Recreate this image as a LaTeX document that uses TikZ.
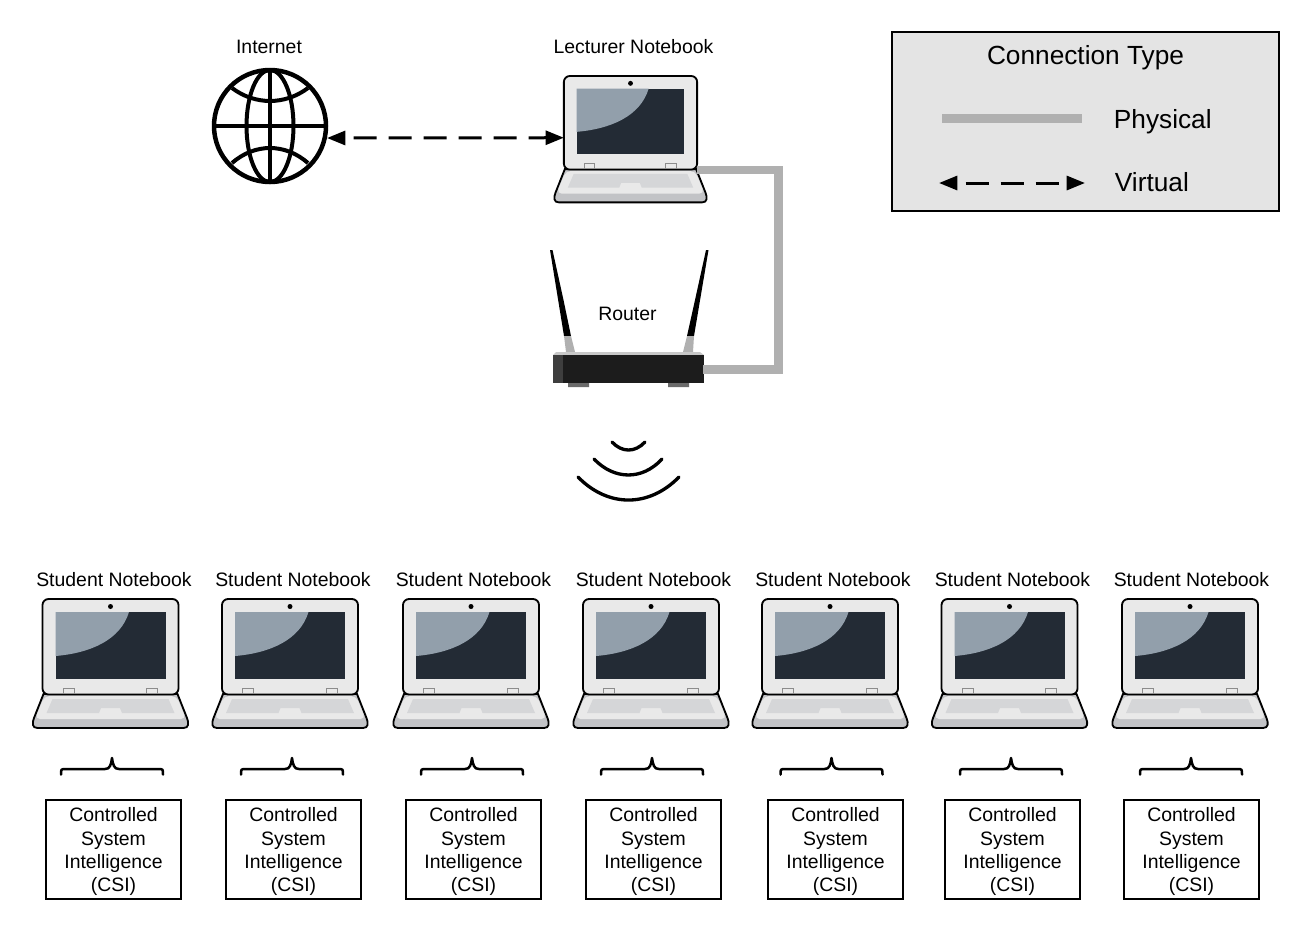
\documentclass[tikz,border=0pt]{standalone}
\usepackage{fontspec}
\setmainfont{Liberation Sans}
\usepackage{xcolor}
\usetikzlibrary{arrows.meta}
\definecolor{lid}{HTML}{E9E9E9}
\definecolor{screen}{HTML}{232B35}
\definecolor{glare}{HTML}{929FAB}
\definecolor{keys}{HTML}{D5D6D8}
\definecolor{strip}{HTML}{C2C3C6}
\definecolor{cable}{HTML}{B0B0B0}
\definecolor{panel}{HTML}{E4E4E4}
\definecolor{casing}{HTML}{1C1C1C}
\tikzset{
  small/.style={font=\fontsize{11.65}{14}\selectfont},
  large/.style={font=\fontsize{15.75}{18}\selectfont},
  physical/.style={line width=5.2pt,cable},
  virtual/.style={line width=1.8pt,{Triangle[length=11pt,width=8.4pt]}-{Triangle[length=11pt,width=8.4pt]},dash pattern=on 13.8pt off 7.2pt,dash phase=15.6pt},
  csi/.style={draw,line width=1.2pt,small,align=center,inner sep=0pt,minimum width=81pt,minimum height=59.4pt,text height=53pt},
  wave/.style={line width=2pt,line cap=round},
  laptop/.pic={
    \fill[strip,draw=black,line width=1.1pt] (-67,96)--(-76.5,120) .. controls (-78.5,125) and (-78.5,130) .. (-73,130)--(73,130) .. controls (78.5,130) and (78.5,125) .. (76.5,120)--(67,96)--cycle;
    \fill[lid,rounded corners=3pt] (-66,98)--(-75.5,121)--(75.5,121)--(66,98)--cycle;
    \fill[keys] (-58,101)--(58,101)--(64,115)--(11.5,115)--(9.5,110)--(-9.5,110)--(-11.5,115)--(-64,115)--cycle;
    \fill[lid,draw=black,line width=1.1pt,rounded corners=3.6pt] (-68,1) rectangle (68,96.5);
    \fill[screen] (-55,14) rectangle (55,81);
    \fill[glare] (-55,14)--(18.5,14) .. controls (10,42) and (-20,55) .. (-55,58)--cycle;
    \fill[black] (0,8.5) circle (2.5);
    \draw[black!45,line width=.5pt] (-47.5,96)--(-47.5,90.5)--(-36.5,90.5)--(-36.5,96);
    \draw[black!45,line width=.5pt] (36,96)--(36,90.5)--(47,90.5)--(47,96);
    \coordinate (-w) at (-68,64);
    \coordinate (-e) at (68,96);
  },
  globe/.pic={
    \draw[line width=2.7pt] (0,0) circle (56);
    \draw[line width=2.7pt] (-56,0)--(56,0) (0,-56)--(0,56);
    \draw[line width=2.4pt] (0,0) ellipse [x radius=23.5,y radius=56];
    \draw[line width=2.4pt] (-38,-38) .. controls (-15,-20.7) and (15,-20.7) .. (38,-38);
    \draw[line width=2.4pt] (-38,37) .. controls (-15,17) and (15,17) .. (38,37);
    \coordinate (-e) at (57,12);
  },
  router/.pic={
    \fill[black] (550,250)--(552.5,250)--(563.5,300)--(571,336)--(564,336)--cycle;
    \fill[black] (706,250)--(708.5,250)--(694,336)--(687,336)--(695,300)--cycle;
    \fill[cable] (564,336)--(571,336)--(575,352)--(566,352)--cycle;
    \fill[cable] (687,336)--(694,336)--(693,352)--(683,352)--cycle;
    \fill[cable!60!black] (568,383) rectangle (589,387) (668,383) rectangle (689,387);
    \fill[cable!70] (556,352)--(700,352)--(704,355)--(553,355)--cycle;
    \fill[casing] (553,355) rectangle (704,383);
    \fill[casing!85!white] (553,355) rectangle (563,383);
    \coordinate (-e) at (703,369.5);
  },
  curly/.pic={
    \draw[line width=1.5pt,line cap=round,line join=round] (-51,16.5) .. controls (-51,11) .. (-46,11)--(-7,11) .. controls (-2,11) and (-1,7) .. (0,0) .. controls (1,7) and (2,11) .. (7,11)--(46,11) .. controls (51,11) .. (51,16.5);
  }
}
\begin{document}
\begin{tikzpicture}[x=.6pt,y=-.6pt]
\useasboundingbox (0,0) rectangle (1300,932);
\pic (net) at (270,126) {globe};
\pic[scale=.98] (lect) at (630.5,75) {laptop};
\pic (rt) at (0,0) {router};
\node[small] (netlabel) at (269,46.5) {Internet};
\node[small] (lectlabel) at (633.5,46.5) {Lecturer Notebook};
\node[small] (rtlabel) at (627.5,314) {Router};
\coordinate (bend) at (778.5,170);
\draw[virtual] (net-e)--(lect-w);
\draw[physical] (lect-e|-bend)--(bend)|-(rt-e);
\draw[wave] (612,442) .. controls (622,452.7) and (635,452.7) .. (645,442);
\draw[wave] (594,459) .. controls (614.5,480.3) and (642.5,480.3) .. (662,459);
\draw[wave] (578,477) .. controls (608,507.7) and (649,507.7) .. (679,477);
% students
\foreach \i/\lx/\tx/\bx/\cx in {1/110.5/114/112/113.5,2/290/293/292/293.5,3/471/473.5/472/473.5,4/651/653.5/652/653.5,5/830/833/831.5/835.5,6/1009.5/1012.5/1011/1012.5,7/1190/1191.5/1191/1191.5}{
  \node[small] (st\i) at (\tx,580) {Student Notebook};
  \pic (lap\i) at (\lx,598) {laptop};
  \pic (brace\i) at (\bx,758) {curly};
  \node[csi] (csi\i) at (\cx,849.5) {Controlled\\System\\Intelligence\\(CSI)};
}
% legend
\node[draw,line width=1.2pt,fill=panel,minimum width=232.2pt,minimum height=107.4pt,inner sep=0pt] (legend) at (1085.5,121.5) {};
\node[large] (legtitle) at (1085.5,58) {Connection Type};
\node[large,anchor=west] (legphys) at (1108,122) {Physical};
\node[large,anchor=west] (legvirt) at (1109,182) {Virtual};
\coordinate (pa) at (942,118.5);
\coordinate (pb) at (1082,118.5);
\coordinate (va) at (939,183);
\coordinate (vb) at (1085,183);
\draw[physical] (pa)--(pb);
\draw[virtual] (va)--(vb);
\end{tikzpicture}
\end{document}
